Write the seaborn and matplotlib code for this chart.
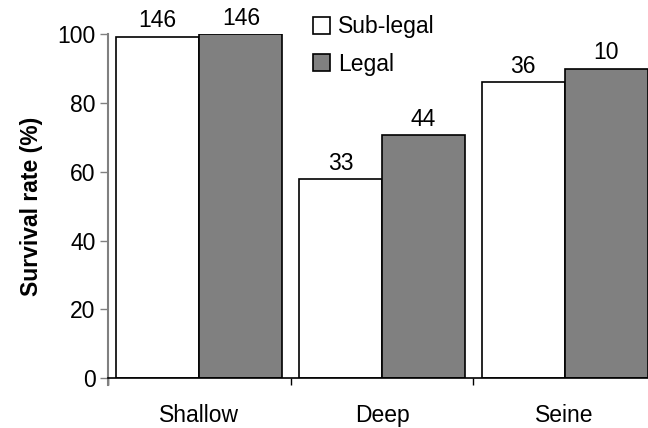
import pandas as pd
import seaborn as sns
import matplotlib.pyplot as plt
from matplotlib.ticker import FixedLocator

sites = ['Shallow', 'Deep', 'Seine']
groups = ['Sub-legal', 'Legal']
sub_legal = [99.2, 57.8, 86.1]
legal = [100.0, 70.6, 89.9]
n_sub_legal = [146, 33, 36]
n_legal = [146, 44, 10]

df = pd.DataFrame({
    'site': sites * 2,
    'group': [groups[0]] * 3 + [groups[1]] * 3,
    'rate': sub_legal + legal,
})

sns.set_style('white', rc={'text.color': 'black', 'axes.labelcolor': 'black',
                           'xtick.color': 'black', 'ytick.color': 'black'})
plt.rcParams['font.family'] = ['Liberation Sans', 'DejaVu Sans']

FS = 16.5

fig = plt.figure(figsize=(6.48, 4.28), dpi=100)
ax = fig.add_axes([0.1667, 0.116, 0.8333, 0.805])

sns.barplot(data=df, x='site', y='rate', hue='group', hue_order=groups,
            palette={'Sub-legal': 'white', 'Legal': '#808080'},
            edgecolor='black', linewidth=1.2, width=0.91, gap=0, ax=ax)

# sample sizes on top of bars
for cont, labels in zip(ax.containers, [n_sub_legal, n_legal]):
    ax.bar_label(cont, labels=[str(v) for v in labels], padding=3,
                 fontsize=FS, clip_on=False)

ax.set_ylim(0, 100)
ax.set_xlim(-0.5, 2.456)
ax.set_yticks([0, 20, 40, 60, 80, 100])
ax.tick_params(axis='y', which='major', left=True, length=6, width=1,
               color='#808080', labelsize=FS, pad=3)
ax.tick_params(axis='x', which='major', bottom=False, labelsize=FS, pad=15)
ax.xaxis.set_minor_locator(FixedLocator([-0.5, 0.5, 1.5]))
ax.tick_params(axis='x', which='minor', bottom=True, length=5, width=1,
               color='black')

for s in ['top', 'right']:
    ax.spines[s].set_visible(False)
ax.spines['left'].set_color('#808080')
ax.spines['left'].set_linewidth(1.5)
ax.spines['bottom'].set_color('black')
ax.spines['bottom'].set_linewidth(1.2)
ax.spines['left'].set_bounds(-1.8, 100)

ax.set_xlabel('')
ax.set_ylabel('Survival rate (%)', fontsize=FS, fontweight='bold', labelpad=10)

ax.legend(loc='upper left', bbox_to_anchor=(0.362, 1.08), frameon=False,
          fontsize=FS, handlelength=0.75, handleheight=0.75, handletextpad=0.35,
          labelspacing=0.62, borderaxespad=0)

fig.savefig('out.png', dpi=100)
